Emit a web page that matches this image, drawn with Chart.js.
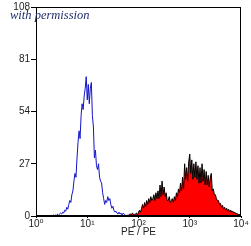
<!DOCTYPE html>
<html>
<head>
<meta charset="utf-8">
<script src="https://cdn.jsdelivr.net/npm/chart.js@4/dist/chart.umd.min.js"></script>
<style>
html,body{margin:0;padding:0;background:#fff;}
#wrap{width:251px;height:246px;position:relative;}
</style>
</head>
<body>
<div id="wrap"><canvas id="c" width="251" height="246"></canvas></div>
<script>
// Histogram channels: bin centres in log10 units, step 0.02 decade
const binStep = 0.02;
const blueStartExp = 0.30;
const blueCounts = [
  0,0,0.5,0,0.5,0,1,0.5,1,1.5,
  1,2,1.5,3,2.5,4.5,3.5,6,8,7,
  11,13,18,22,20,30,38,44,40,52,
  58,55,62,66,72,60,68,58,66,69,
  52,46,30,34,26,24,27,20,18,17,
  12,9,6,8,7,10,8,9,6,4,
  5,3,2,2.5,1.5,1,2,1,1.5,0.5,
  1.5,1,0.5,0,0.5,0,1,0.5,0,0.5,
  0,1,0.5,0,0.5,0
];
const redStartExp = 1.80;
const redCounts = [
  0,0.5,1,0.5,1.5,1,0.5,1,1.5,0.5,
  2,3,2,4,6,4,7,5,8,6,
  9,7,10,8,9,11,8,12,9,13,
  9,16,10,18,11,15,10,12,8,8,
  10,7,8,9,7,10,8,12,10,14,
  12,17,13,20,14,27,19,25,18,28,
  32,22,29,19,27,20,28,19,26,17,
  25,17,27,18,24,16,23,16,21,15,
  20,22,13,14,11,11,9,8,8,6,
  6.5,4.5,5.5,3.5,4.5,3,4,2.5,3.5,2,
  3,2,2.5,1.5,2,1,1.5,0.5,1,0.5,
  0
];
const xTickValues = [1, 10, 100, 1000, 10000];
const xTickLabels = ['10\u2070', '10\u00B9', '10\u00B2', '10\u00B3', '10\u2074'];
const yTickValues = [0, 27, 54, 81, 108];
const xTitle = 'PE / PE';
const noteText = 'with permission';

function toPoints(startExp, counts) {
  return counts.map((v, i) => ({ x: Math.pow(10, startExp + i * binStep), y: v }));
}

const framePlugin = {
  id: 'frame',
  afterDatasetsDraw(chart) {
    const a = chart.chartArea, ctx = chart.ctx;
    ctx.save();
    ctx.strokeStyle = '#000';
    ctx.lineWidth = 1;
    ctx.strokeRect(Math.round(a.left) + 0.5, Math.round(a.top) + 0.5,
      Math.round(a.right - a.left) - 1, Math.round(a.bottom - a.top) - 1);
    ctx.restore();
  },
  afterDraw(chart) {
    const ctx = chart.ctx;
    ctx.save();
    ctx.font = 'italic 12.5px "Liberation Serif", "DejaVu Serif", serif';
    ctx.fillStyle = '#1f2d6b';
    ctx.textBaseline = 'alphabetic';
    ctx.fillText(noteText, 10, 19);
    ctx.restore();
  }
};

const fontFam = '"Liberation Sans", Arial, "DejaVu Sans", sans-serif';

new Chart(document.getElementById('c'), {
  type: 'line',
  data: {
    datasets: [
      {
        label: 'red',
        data: toPoints(redStartExp, redCounts),
        borderColor: '#000000',
        backgroundColor: '#ff0000',
        borderWidth: 1,
        fill: 'origin',
        pointRadius: 0,
        tension: 0
      },
      {
        label: 'blue',
        data: toPoints(blueStartExp, blueCounts),
        borderColor: '#1414c8',
        borderWidth: 1,
        fill: false,
        pointRadius: 0,
        tension: 0
      }
    ]
  },
  options: {
    responsive: false,
    animation: false,
    devicePixelRatio: 1,
    layout: { padding: { left: 0, right: 10, top: 5, bottom: 8 } },
    plugins: { legend: { display: false }, tooltip: { enabled: false } },
    scales: {
      x: {
        type: 'logarithmic',
        min: 1, max: 10000,
        afterBuildTicks(axis) { axis.ticks = xTickValues.map(v => ({ value: v })); },
        afterFit(axis) { axis.height = 22; },
        ticks: {
          autoSkip: false, maxRotation: 0, padding: 0,
          color: '#222',
          font: { family: fontFam, size: 10 },
          callback(v) { const i = xTickValues.indexOf(v); return i >= 0 ? xTickLabels[i] : ''; }
        },
        grid: { display: true, drawOnChartArea: false, drawTicks: true, tickLength: 2, color: '#000' },
        border: { display: true, color: '#000' },
        title: { display: true, text: xTitle, color: '#222', font: { family: fontFam, size: 10 }, padding: { top: 0, bottom: 0 } }
      },
      y: {
        type: 'linear',
        min: 0, max: 108,
        afterBuildTicks(axis) { axis.ticks = yTickValues.map(v => ({ value: v })); },
        afterFit(axis) { axis.width = 36; },
        ticks: { color: '#222', padding: 1, font: { family: fontFam, size: 10 } },
        grid: { display: true, drawOnChartArea: false, drawTicks: true, tickLength: 5, color: '#000' },
        border: { display: true, color: '#000' }
      }
    }
  },
  plugins: [framePlugin]
});
</script>
</body>
</html>
